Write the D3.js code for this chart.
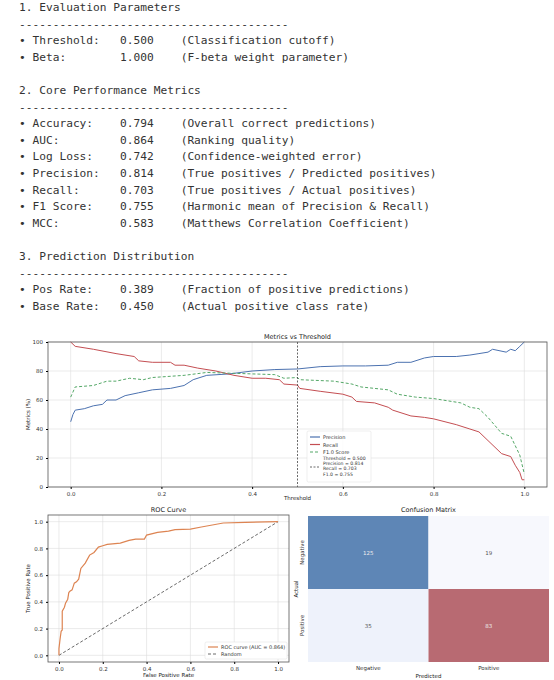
<!DOCTYPE html>
<html><head><meta charset="utf-8">
<script src="https://cdn.jsdelivr.net/npm/d3@7"></script>
<style>body{margin:0;background:#fff}svg{display:block}</style>
</head><body><svg id="c" width="554" height="680"></svg>
<script>
const reportLines = [
"1. Evaluation Parameters",
"----------------------------------------",
"• Threshold:   0.500    (Classification cutoff)",
"• Beta:        1.000    (F-beta weight parameter)",
"",
"2. Core Performance Metrics",
"----------------------------------------",
"• Accuracy:    0.794    (Overall correct predictions)",
"• AUC:         0.864    (Ranking quality)",
"• Log Loss:    0.742    (Confidence-weighted error)",
"• Precision:   0.814    (True positives / Predicted positives)",
"• Recall:      0.703    (True positives / Actual positives)",
"• F1 Score:    0.755    (Harmonic mean of Precision & Recall)",
"• MCC:         0.583    (Matthews Correlation Coefficient)",
"",
"3. Prediction Distribution",
"----------------------------------------",
"• Pos Rate:    0.389    (Fraction of positive predictions)",
"• Base Rate:   0.450    (Actual positive class rate)"];

const precision = [[0,45],[0.005,50],[0.01,53],[0.03,54],[0.05,56],[0.07,57],[0.08,60],[0.1,60],[0.12,63],[0.15,65],[0.18,67],[0.22,68],[0.25,70],[0.27,74],[0.3,77],[0.35,78],[0.4,80],[0.45,81],[0.5,81.4],[0.55,83],[0.6,83.5],[0.65,83.5],[0.7,84],[0.72,86],[0.75,86],[0.78,89],[0.8,90],[0.85,90],[0.88,91],[0.9,92],[0.92,93],[0.93,95],[0.96,93],[0.97,95],[0.98,94],[0.99,97],[1.0,100]];
const recall = [[0,100],[0.01,97],[0.05,95],[0.1,92],[0.14,90],[0.15,87],[0.18,86],[0.22,86],[0.23,84],[0.25,84],[0.28,82],[0.32,80],[0.36,77],[0.4,75],[0.43,75],[0.46,74],[0.47,71],[0.5,70.3],[0.505,68],[0.55,66],[0.6,64],[0.62,62],[0.63,59],[0.67,58],[0.7,55],[0.71,53],[0.75,49],[0.78,48],[0.8,47],[0.85,43],[0.88,40],[0.9,38],[0.92,32],[0.95,23],[0.97,21],[0.98,15],[0.99,10],[0.995,5],[1.0,5]];
const f1 = [[0,62],[0.01,69],[0.05,70],[0.08,73],[0.1,73],[0.13,75],[0.16,74],[0.18,75.5],[0.25,77],[0.3,79],[0.35,78.5],[0.4,78],[0.45,77.5],[0.47,75],[0.5,75.5],[0.505,74],[0.58,73],[0.62,71],[0.64,69],[0.7,67],[0.72,64],[0.76,62],[0.8,61],[0.86,58],[0.88,55],[0.9,54],[0.92,48],[0.95,37],[0.97,35],[0.99,22],[1.0,9]];
const roc = [[0,0],[0,0.05],[0.005,0.12],[0.01,0.18],[0.015,0.19],[0.015,0.33],[0.025,0.36],[0.03,0.39],[0.04,0.42],[0.045,0.47],[0.05,0.48],[0.06,0.49],[0.07,0.54],[0.08,0.55],[0.09,0.57],[0.1,0.65],[0.12,0.69],[0.14,0.75],[0.16,0.77],[0.18,0.81],[0.2,0.82],[0.22,0.83],[0.28,0.84],[0.32,0.86],[0.35,0.87],[0.39,0.87],[0.4,0.9],[0.45,0.92],[0.5,0.93],[0.53,0.94],[0.6,0.945],[0.65,0.96],[0.7,0.975],[0.75,0.99],[0.85,0.995],[1,1]];
const cmLabels = ["Negative","Positive"];
const cmValues = [[125,19],[35,83]];
const cmColors = [["#5e86b6","#f7f8fd"],["#eef2fb","#b86a72"]];
const threshLegend = ["Threshold = 0.500","Precision = 0.814","Recall = 0.703","F1.0 = 0.755"];

const svg = d3.select("#c");
svg.append("g").selectAll("text").data(reportLines).join("text")
  .attr("x",19).attr("y",(d,i)=>11+i*16.6)
  .attr("font-family","DejaVu Sans Mono").attr("font-size",11.2).attr("fill","#333")
  .attr("xml:space","preserve").style("white-space","pre").text(d=>d);

const fs=5.5, font="DejaVu Sans";
function grid(g,x,y,xt,yt,x0,x1,y0,y1){
  g.selectAll(".gx").data(xt).join("line").attr("class","gx").attr("x1",d=>x(d)).attr("x2",d=>x(d)).attr("y1",y0).attr("y2",y1).attr("stroke","#ddd").attr("stroke-width",0.6);
  g.selectAll(".gy").data(yt).join("line").attr("class","gy").attr("y1",d=>y(d)).attr("y2",d=>y(d)).attr("x1",x0).attr("x2",x1).attr("stroke","#ddd").attr("stroke-width",0.6);
}
function axes(g,x,y,xt,yt,x0,x1,y0,y1,xf,yf){
  g.append("g").attr("transform",`translate(0,${y1})`).call(d3.axisBottom(x).tickValues(xt).tickFormat(xf).tickSize(2)).call(a=>{a.select(".domain").remove();a.selectAll("text").attr("font-size",fs).attr("font-family",font).attr("fill","#333");});
  g.append("g").attr("transform",`translate(${x0},0)`).call(d3.axisLeft(y).tickValues(yt).tickFormat(yf).tickSize(2)).call(a=>{a.select(".domain").remove();a.selectAll("text").attr("font-size",fs).attr("font-family",font).attr("fill","#333");});
}

// Metrics vs threshold
{
  const x0=48,x1=547,y0=342,y1=487;
  const x=d3.scaleLinear().domain([-0.05,1.05]).range([x0,x1]);
  const y=d3.scaleLinear().domain([0,100]).range([y1,y0]);
  const g=svg.append("g");
  const xt=[0,0.2,0.4,0.6,0.8,1.0], yt=[0,20,40,60,80,100];
  grid(g,x,y,xt,yt,x0,x1,y0,y1);
  const line=d3.line().x(d=>x(d[0])).y(d=>y(d[1]));
  g.append("path").datum(precision).attr("d",line).attr("fill","none").attr("stroke","#4c72b0").attr("stroke-width",1);
  g.append("path").datum(recall).attr("d",line).attr("fill","none").attr("stroke","#c44e52").attr("stroke-width",1);
  g.append("path").datum(f1).attr("d",line).attr("fill","none").attr("stroke","#55a868").attr("stroke-width",1).attr("stroke-dasharray","3,2");
  g.append("line").attr("x1",x(0.5)).attr("x2",x(0.5)).attr("y1",y0).attr("y2",y1).attr("stroke","#444").attr("stroke-width",0.8).attr("stroke-dasharray","2,1.5");
  g.append("rect").attr("x",x0).attr("y",y0).attr("width",x1-x0).attr("height",y1-y0).attr("fill","none").attr("stroke","#555").attr("stroke-width",0.8);
  axes(g,x,y,xt,yt,x0,x1,y0,y1,d3.format(".1f"),d3.format("d"));
  g.append("text").attr("x",(x0+x1)/2).attr("y",339).attr("text-anchor","middle").attr("font-size",6.5).attr("font-family",font).attr("fill","#222").text("Metrics vs Threshold");
  g.append("text").attr("x",(x0+x1)/2).attr("y",500).attr("text-anchor","middle").attr("font-size",5.5).attr("font-family",font).attr("fill","#222").text("Threshold");
  g.append("text").attr("transform",`translate(30,${(y0+y1)/2}) rotate(-90)`).attr("text-anchor","middle").attr("font-size",5.5).attr("font-family",font).attr("fill","#222").text("Metrics (%)");
  const lg=g.append("g").attr("transform","translate(307,431)");
  lg.append("rect").attr("width",64).attr("height",51).attr("fill","#fff").attr("fill-opacity",0.85).attr("stroke","#ddd").attr("stroke-width",0.5).attr("rx",1.5);
  const items=[["Precision","#4c72b0",null],["Recall","#c44e52",null],["F1.0 Score","#55a868","3,2"]];
  items.forEach((it,i)=>{
    const yy=6+i*7.5;
    lg.append("line").attr("x1",3).attr("x2",13).attr("y1",yy).attr("y2",yy).attr("stroke",it[1]).attr("stroke-width",1.2).attr("stroke-dasharray",it[2]);
    lg.append("text").attr("x",16).attr("y",yy+2).attr("font-size",5).attr("font-family",font).attr("fill","#333").text(it[0]);
  });
  lg.append("line").attr("x1",3).attr("x2",13).attr("y1",36).attr("y2",36).attr("stroke","#444").attr("stroke-width",0.8).attr("stroke-dasharray","2,1.5");
  threshLegend.forEach((t,i)=>lg.append("text").attr("x",16).attr("y",29+i*5.2).attr("font-size",4.6).attr("font-family",font).attr("fill","#333").text(t));
}

// ROC
{
  const x0=48,x1=289,y0=515,y1=662;
  const x=d3.scaleLinear().domain([-0.05,1.05]).range([x0,x1]);
  const y=d3.scaleLinear().domain([-0.05,1.05]).range([y1,y0]);
  const g=svg.append("g");
  const t=[0,0.2,0.4,0.6,0.8,1.0];
  grid(g,x,y,t,t,x0,x1,y0,y1);
  const line=d3.line().x(d=>x(d[0])).y(d=>y(d[1]));
  g.append("path").datum([[0,0],[1,1]]).attr("d",line).attr("stroke","#444").attr("stroke-width",0.8).attr("stroke-dasharray","3,2");
  g.append("path").datum(roc).attr("d",line).attr("fill","none").attr("stroke","#dd8452").attr("stroke-width",1.2);
  g.append("rect").attr("x",x0).attr("y",y0).attr("width",x1-x0).attr("height",y1-y0).attr("fill","none").attr("stroke","#555").attr("stroke-width",0.8);
  axes(g,x,y,t,t,x0,x1,y0,y1,d3.format(".1f"),d3.format(".1f"));
  g.append("text").attr("x",(x0+x1)/2).attr("y",512).attr("text-anchor","middle").attr("font-size",6.5).attr("font-family",font).attr("fill","#222").text("ROC Curve");
  g.append("text").attr("x",(x0+x1)/2).attr("y",677).attr("text-anchor","middle").attr("font-size",5.5).attr("font-family",font).attr("fill","#222").text("False Positive Rate");
  g.append("text").attr("transform",`translate(30,${(y0+y1)/2}) rotate(-90)`).attr("text-anchor","middle").attr("font-size",5.5).attr("font-family",font).attr("fill","#222").text("True Positive Rate");
  const lg=g.append("g").attr("transform","translate(205,642)");
  lg.append("rect").attr("width",82).attr("height",17).attr("fill","#fff").attr("stroke","#ddd").attr("stroke-width",0.5).attr("rx",1.5);
  lg.append("line").attr("x1",3).attr("x2",13).attr("y1",5).attr("y2",5).attr("stroke","#dd8452").attr("stroke-width",1.2);
  lg.append("text").attr("x",16).attr("y",7).attr("font-size",5).attr("font-family",font).attr("fill","#333").text("ROC curve (AUC = 0.864)");
  lg.append("line").attr("x1",3).attr("x2",13).attr("y1",12).attr("y2",12).attr("stroke","#444").attr("stroke-width",0.8).attr("stroke-dasharray","3,2");
  lg.append("text").attr("x",16).attr("y",14).attr("font-size",5).attr("font-family",font).attr("fill","#333").text("Random");
}

// Confusion matrix
{
  const x0=308,x1=549,y0=516,y1=662;
  const x=d3.scaleBand().domain(cmLabels).range([x0,x1]);
  const y=d3.scaleBand().domain(cmLabels).range([y0,y1]);
  const g=svg.append("g");
  const cells=[];
  cmLabels.forEach((a,i)=>cmLabels.forEach((p,j)=>cells.push({a,p,v:cmValues[i][j],c:cmColors[i][j]})));
  g.selectAll("rect").data(cells).join("rect").attr("x",d=>x(d.p)).attr("y",d=>y(d.a)).attr("width",x.bandwidth()).attr("height",y.bandwidth()).attr("fill",d=>d.c);
  g.selectAll(".v").data(cells).join("text").attr("class","v").attr("x",d=>x(d.p)+x.bandwidth()/2).attr("y",d=>y(d.a)+y.bandwidth()/2+2).attr("text-anchor","middle").attr("font-size",5.5).attr("font-family",font).attr("fill",d=>d.v>60?"#eee":"#555").text(d=>d.v);
  g.selectAll(".xl").data(cmLabels).join("text").attr("class","xl").attr("x",d=>x(d)+x.bandwidth()/2).attr("y",670).attr("text-anchor","middle").attr("font-size",5.5).attr("font-family",font).attr("fill","#333").text(d=>d);
  g.selectAll(".yl").data(cmLabels).join("text").attr("class","yl").attr("transform",d=>`translate(304,${y(d)+y.bandwidth()/2}) rotate(-90)`).attr("text-anchor","middle").attr("font-size",5.5).attr("font-family",font).attr("fill","#333").text(d=>d);
  g.append("text").attr("x",(x0+x1)/2).attr("y",512).attr("text-anchor","middle").attr("font-size",6.5).attr("font-family",font).attr("fill","#222").text("Confusion Matrix");
  g.append("text").attr("x",(x0+x1)/2).attr("y",678).attr("text-anchor","middle").attr("font-size",5.5).attr("font-family",font).attr("fill","#222").text("Predicted");
  g.append("text").attr("transform",`translate(298,${(y0+y1)/2}) rotate(-90)`).attr("text-anchor","middle").attr("font-size",5.5).attr("font-family",font).attr("fill","#222").text("Actual");
}
</script></body></html>
